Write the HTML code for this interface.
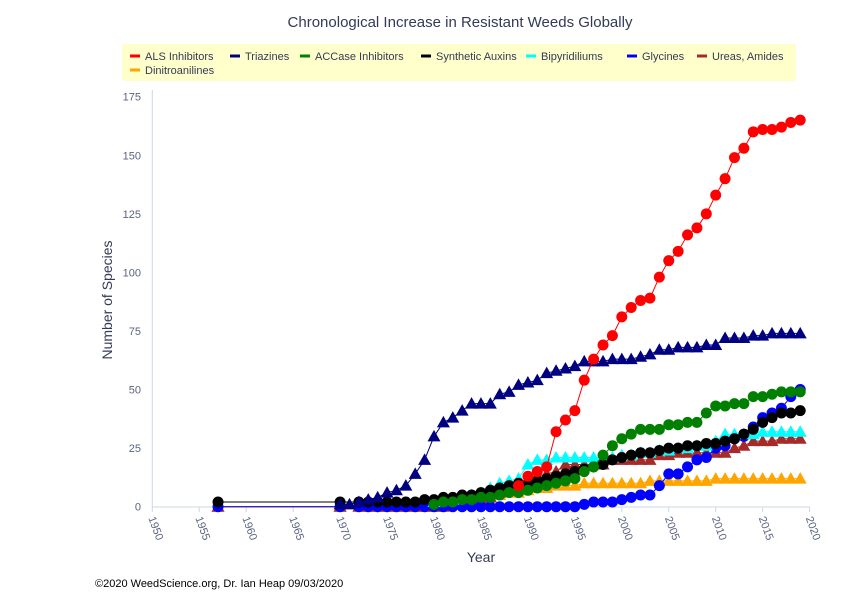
<!DOCTYPE html>
<html><head><meta charset="utf-8"><style>
body{margin:0;background:#fff;width:842px;height:597px;overflow:hidden;font-family:"Liberation Sans",Arial,sans-serif}
</style></head><body>
<svg id="s" width="842" height="597" xmlns="http://www.w3.org/2000/svg" font-family="Liberation Sans, Arial, sans-serif">
<text x="460" y="27" text-anchor="middle" font-size="15" fill="#333a55">Chronological Increase in Resistant Weeds Globally</text>
<rect x="122" y="44" width="674" height="37" fill="#ffffcc"/>
<g font-size="11" fill="#333a55">
<line x1="130" y1="56" x2="140" y2="56" stroke="#f00" stroke-width="3"/><text x="145" y="60">ALS Inhibitors</text>
<line x1="230" y1="56" x2="240" y2="56" stroke="#000080" stroke-width="3"/><text x="245" y="60">Triazines</text>
<line x1="300" y1="56" x2="310" y2="56" stroke="#008000" stroke-width="3"/><text x="315" y="60">ACCase Inhibitors</text>
<line x1="421" y1="56" x2="431" y2="56" stroke="#000" stroke-width="3"/><text x="436" y="60">Synthetic Auxins</text>
<line x1="526" y1="56" x2="536" y2="56" stroke="#00ffff" stroke-width="3"/><text x="541" y="60">Bipyridiliums</text>
<line x1="627" y1="56" x2="637" y2="56" stroke="#00f" stroke-width="3"/><text x="642" y="60">Glycines</text>
<line x1="697" y1="56" x2="707" y2="56" stroke="#a52a2a" stroke-width="3"/><text x="712" y="60">Ureas, Amides</text>
<line x1="130" y1="70" x2="140" y2="70" stroke="#ffa500" stroke-width="3"/><text x="145" y="74">Dinitroanilines</text>
</g>
<line x1="152.3" y1="90" x2="152.3" y2="507" stroke="#ccd6eb"/>
<line x1="152.3" y1="507" x2="810" y2="507" stroke="#ccd6eb"/>
<g id="ax" font-size="11" fill="#5a6480"></g>
<text x="112" y="300" transform="rotate(-90 112 300)" text-anchor="middle" font-size="14" fill="#333a55">Number of Species</text>
<text x="481" y="562" text-anchor="middle" font-size="14" fill="#333a55">Year</text>
<text x="95" y="587" font-size="11" fill="#000">©2020 WeedScience.org, Dr. Ian Heap 09/03/2020</text>
<g id="pl"></g>
</svg>
<script>
var X=function(y){return 152.3+(y-1950)*9.39},Y=function(v){return 506.7-v*2.343};
var ax=document.getElementById('ax'),h='';
for(var v=0;v<=175;v+=25)h+='<text x="141" y="'+(Y(v)+4)+'" text-anchor="end">'+v+'</text>';
for(var y=1950;y<=2020;y+=5){var x=X(y);h+='<line x1="'+x+'" y1="507" x2="'+x+'" y2="512" stroke="#ccd6eb"/><text x="'+(x-4)+'" y="518" transform="rotate(70 '+(x-4)+' 518)">'+y+'</text>';}
ax.innerHTML=h;
function S(start,arr){var o=[];for(var i=0;i<arr.length;i++)o.push([start+i,arr[i]]);return o}
var ser=[
['#ffa500','t',[[1957,0],[1970,0]].concat(S(1972,[1,1,1,1,1,1,1,1,1,1,1,1,2,3,4,5,6,6,7,8,8,9,9,9,10,10,10,10,10,10,10,11,11,11,11,11,11,11,12,12,12,12,12,12,12,12,12,12]))],
['#a52a2a','t',[[1957,0],[1970,0]].concat(S(1972,[0,0,0,0,0,0,0,0,0,0,1,1,2,3,4,6,7,8,12,13,14,15,18,18,18,18,18,20,20,20,20,20,22,22,23,23,23,23,23,23,25,26,28,28,28,29,29,29]))],
['#00f','c',[[1957,0],[1970,0]].concat(S(1972,[0,0,0,0,0,0,0,0,0,0,0,0,0,0,0,0,0,0,0,0,0,0,0,0,1,2,2,2,3,4,5,5,9,14,14,17,20,21,25,26,29,30,34,38,40,42,47,50]))],
['#00ffff','t',S(1980,[2,3,3,4,5,6,8,10,11,12,18,20,20,21,21,21,21,21,21,21,22,22,23,23,24,24,25,25,26,26,28,31,31,31,31,32,32,32,32,32])],
['#000','c',[[1957,2],[1970,2]].concat(S(1972,[2,2,2,2,2,2,2,3,3,4,4,5,5,6,7,8,9,10,10,11,12,13,14,15,16,17,18,20,21,22,23,23,24,25,25,26,26,27,27,28,29,31,33,36,38,40,40,41]))],
['#008000','c',S(1980,[1,2,2,3,3,4,4,5,6,6,7,8,9,10,11,12,15,17,22,26,29,31,33,33,33,35,35,36,36,40,43,43,44,44,47,47,48,49,49,49])],
['#000080','t',S(1970,[1,1,2,3,4,6,7,9,14,20,30,36,38,41,44,44,44,48,49,52,53,54,57,58,59,60,62,62,62,63,63,63,64,65,67,67,68,68,68,69,69,72,72,72,73,73,74,74,74,74])],
['#f00','c',S(1989,[9,13,15,17,32,37,41,54,63,69,73,81,85,88,89,98,105,109,116,119,125,133,140,149,153,160,161,161,162,164,165])]
];
var g='';
ser.forEach(function(s){var c=s[0],p=s[2];
g+='<polyline fill="none" stroke="'+c+'" stroke-width="1" points="'+p.map(function(q){return X(q[0])+','+Y(q[1])}).join(' ')+'"/>';
p.forEach(function(q){var x=X(q[0]),y=Y(q[1]);
if(s[1]=='c')g+='<circle cx="'+x+'" cy="'+y+'" r="5.5" fill="'+c+'"/>';
else g+='<polygon points="'+x+','+(y-6.5)+' '+(x+6.5)+','+(y+5)+' '+(x-6.5)+','+(y+5)+'" fill="'+c+'"/>';});});
document.getElementById('pl').innerHTML=g;
</script>
</body></html>
